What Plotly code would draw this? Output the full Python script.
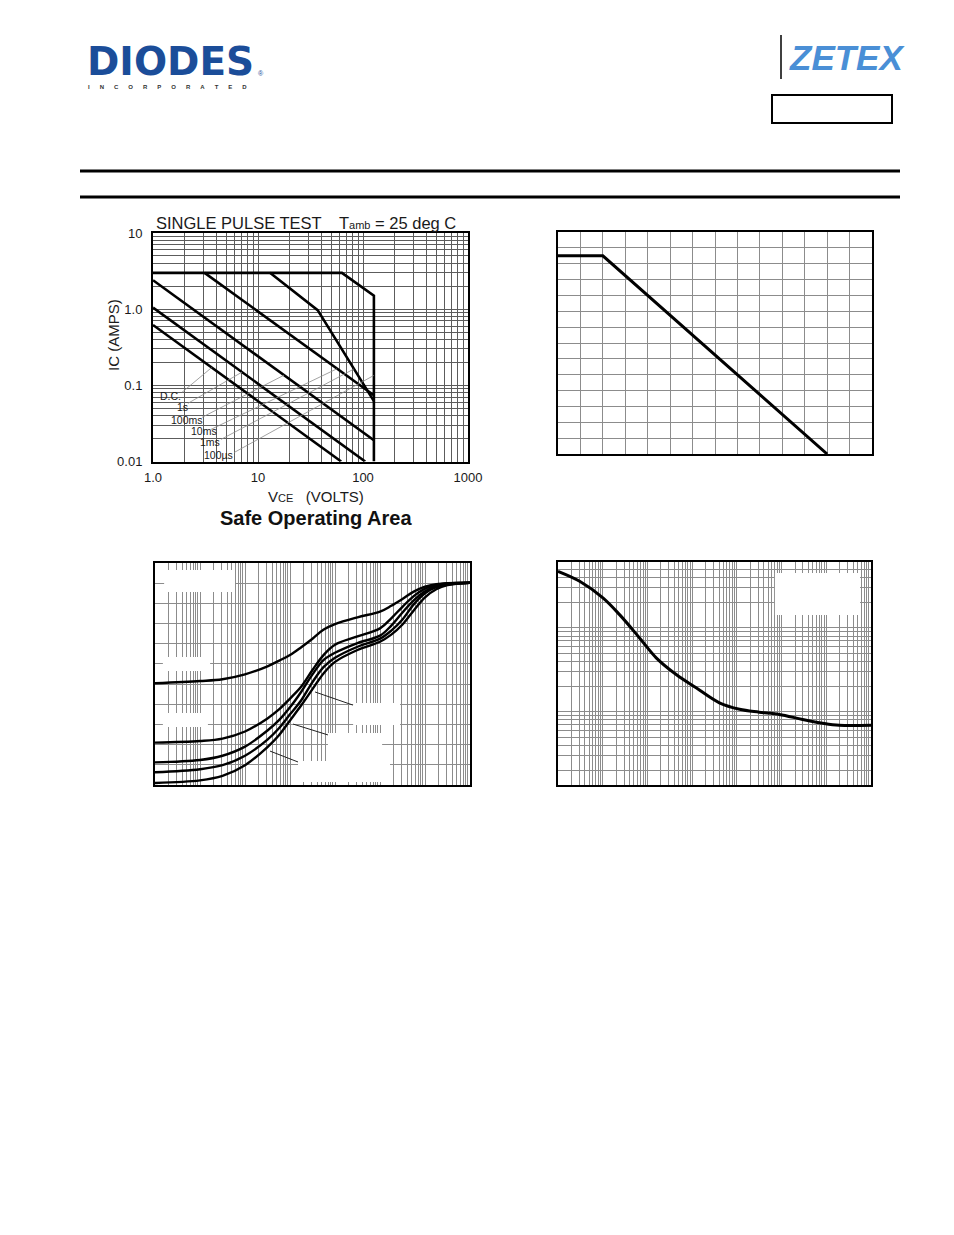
import numpy as np
import plotly.graph_objects as go

W, H = 954, 1235

# ---------------- data ----------------
# Safe Operating Area: VCE (V) vs IC (A)
soa_dc_v = [1.0, 62.0]
soa_dc_i = [0.62, 0.01]
soa_1s_v = [1.0, 105.0]
soa_1s_i = [1.05, 0.01]
soa_100ms_v = [1.0, 127.0]
soa_100ms_i = [2.4, 0.019]
soa_10ms_v = [3.1, 127.0]
soa_10ms_i = [3.0, 0.074]
soa_1ms_v = [13.0, 37.0, 127.0]
soa_1ms_i = [3.0, 0.97, 0.062]
soa_100us_v = [1.0, 63.0, 127.0, 127.0]
soa_100us_i = [3.0, 3.0, 1.5, 0.01]

soa_labels = ["D.C.", "1s", "100ms", "10ms", "1ms", "100µs"]
soa_label_v = [1.48, 1.93, 2.11, 3.05, 3.49, 4.16]
soa_label_i = [0.073, 0.052, 0.035, 0.025, 0.018, 0.012]
soa_leader_v0 = [1.89, 2.15, 2.93, 3.57, 4.44, 5.91]
soa_leader_i0 = [0.081, 0.058, 0.038, 0.0264, 0.0195, 0.0131]
soa_leader_v1 = [3.62, 7.04, 17.7, 56.5, 82.0, 127.0]
soa_leader_i1 = [0.171, 0.149, 0.136, 0.165, 0.164, 0.135]

soa_x_tickvals = [1, 10, 100, 1000]
soa_x_ticktext = ["1.0", "10", "100", "1000"]
soa_y_tickvals = [0.01, 0.1, 1, 10]
soa_y_ticktext = ["0.01", "0.1", "1.0", "10"]

# Derating curve (top right)
derate_t = [0, 20, 120]
derate_p = [1.25, 1.25, 0.0]

# Transient thermal curves (bottom left): pulse width (s) vs value
tt_t = [1e-4, 1e-3, 3.16e-3, 1e-2, 3.16e-2, 5.62e-2, 0.1, 0.178, 0.316, 0.562,
        1.0, 3.16, 10.0, 17.8, 31.6, 56.2, 100.0, 178.0, 316.0, 1000.0]
tt_c1 = [50.4, 51.5, 52.4, 54.8, 58.8, 61.5, 64.4, 68.3, 72.5, 77.0,
         79.7, 83.1, 85.9, 88.8, 92.2, 95.8, 98.3, 99.5, 100.0, 100.2]
tt_c2 = [21.0, 21.8, 23.0, 26.5, 33.0, 37.3, 42.8, 48.8, 57.0, 64.5,
         69.5, 73.6, 77.6, 82.6, 88.3, 93.6, 97.3, 99.2, 99.9, 100.2]
tt_c3 = [11.2, 12.4, 14.5, 19.0, 27.0, 32.0, 38.5, 46.2, 54.8, 62.0,
         65.5, 70.3, 74.0, 79.0, 85.5, 91.5, 96.0, 98.7, 99.7, 100.2]
tt_c4 = [6.3, 7.8, 9.8, 14.5, 22.5, 28.0, 35.0, 42.0, 51.0, 58.5,
         63.0, 68.5, 72.5, 76.5, 82.0, 89.5, 95.0, 98.0, 99.3, 100.2]
tt_c5 = [1.0, 2.3, 4.5, 9.8, 18.8, 24.5, 32.0, 39.5, 47.5, 55.4,
         61.0, 66.9, 71.0, 74.5, 79.5, 86.5, 93.0, 97.0, 99.0, 100.2]
tt_leader_t0 = [3.6e-1, 1.17e-1, 3.6e-2]
tt_leader_v0 = [46.1, 30.2, 16.8]
tt_leader_t1 = [2.5, 0.70, 0.151]
tt_leader_v1 = [39.6, 24.8, 11.4]

# Pulse power (bottom right): pulse width (s) vs power (W)
pp_t = [1e-4, 3.05e-4, 1.01e-3, 2.38e-3, 6.67e-3, 1.57e-2, 4.4e-2, 0.123,
        0.407, 1.15, 3.16, 8.9, 29.5, 83.0, 195.0, 1000.0]
pp_p = [47.3, 36.0, 22.8, 14.4, 7.6, 4.4, 2.78, 1.93,
        1.28, 1.07, 0.99, 0.93, 0.81, 0.73, 0.69, 0.69]

# ---------------- helpers ----------------
def px(x):
    return x / W


def py(y):
    return 1 - y / H


def log_minor(lo, hi):
    return [m * 10.0 ** k for k in range(lo, hi) for m in range(2, 10)]


fig = go.Figure()


def add_line(x, y, xa, ya, width=2.6, color="black", shape="linear"):
    fig.add_trace(go.Scatter(x=x, y=y, mode="lines", xaxis=xa, yaxis=ya,
                             line=dict(color=color, width=width, shape=shape),
                             hoverinfo="skip", showlegend=False))


# SOA curves
for v, i in [(soa_dc_v, soa_dc_i), (soa_1s_v, soa_1s_i), (soa_100ms_v, soa_100ms_i),
             (soa_10ms_v, soa_10ms_i), (soa_1ms_v, soa_1ms_i), (soa_100us_v, soa_100us_i)]:
    add_line(v, i, "x", "y", width=2.6)
for k in range(len(soa_labels)):
    add_line([soa_leader_v0[k], soa_leader_v1[k]], [soa_leader_i0[k], soa_leader_i1[k]],
             "x", "y", width=0.8, color="#8a8a8a")

# derating
add_line(derate_t, derate_p, "x2", "y2", width=3.0)

# transient thermal
for c in [tt_c1, tt_c2, tt_c3, tt_c4, tt_c5]:
    add_line(tt_t, c, "x3", "y3", width=2.4, shape="spline")
for k in range(len(tt_leader_t0)):
    add_line([tt_leader_t0[k], tt_leader_t1[k]], [tt_leader_v0[k], tt_leader_v1[k]],
             "x3", "y3", width=1.0, color="#222")

# pulse power
add_line(pp_t, pp_p, "x4", "y4", width=3.0, shape="spline")

grid_soa = "#5c5c5c"
grid_c = "#8c8c8c"
frame = dict(showline=True, linecolor="black", linewidth=2, mirror=True, zeroline=False,
             automargin=False)
tickfont = dict(family="Liberation Sans, Arial, sans-serif", size=13, color="#1a1a1a")

layout = dict(
    width=W, height=H, margin=dict(l=0, r=0, t=0, b=0, pad=0, autoexpand=False),
    autosize=False, paper_bgcolor="white", plot_bgcolor="white", showlegend=False,
    xaxis=dict(domain=[px(153), px(468)], anchor="y", type="log", range=[0, 3],
               tickvals=soa_x_tickvals, ticktext=soa_x_ticktext, ticks="",
               showgrid=True, gridcolor=grid_soa, gridwidth=1,
               minor=dict(tickvals=log_minor(0, 3), showgrid=True, gridcolor=grid_soa,
                          gridwidth=0.8, ticks=""),
               tickfont=tickfont, ticklabelstandoff=3, **frame),
    yaxis=dict(domain=[py(461.5), py(233)], anchor="x", type="log", range=[-2, 1],
               tickvals=soa_y_tickvals, ticktext=soa_y_ticktext, ticks="",
               showgrid=True, gridcolor=grid_soa, gridwidth=1,
               minor=dict(tickvals=log_minor(-2, 1), showgrid=True, gridcolor=grid_soa,
                          gridwidth=0.8, ticks=""),
               tickfont=tickfont, ticklabelstandoff=6, **frame),
    xaxis2=dict(domain=[px(558), px(872)], anchor="y2", range=[0, 140], dtick=10,
                showticklabels=False, ticks="", showgrid=True, gridcolor=grid_c,
                gridwidth=1, **frame),
    yaxis2=dict(domain=[py(454), py(232)], anchor="x2", range=[0, 1.4], dtick=0.1,
                showticklabels=False, ticks="", showgrid=True, gridcolor=grid_c,
                gridwidth=1, **frame),
    xaxis3=dict(domain=[px(155), px(470)], anchor="y3", type="log", range=[-4, 3],
                tickvals=[10.0 ** k for k in range(-4, 4)], showticklabels=False, ticks="",
                showgrid=True, gridcolor=grid_c, gridwidth=1,
                minor=dict(tickvals=log_minor(-4, 3), showgrid=True, gridcolor=grid_c,
                           gridwidth=1, ticks=""), **frame),
    yaxis3=dict(domain=[py(785), py(563)], anchor="x3", range=[0, 110], dtick=10,
                showticklabels=False, ticks="", showgrid=True, gridcolor=grid_c,
                gridwidth=1, **frame),
    xaxis4=dict(domain=[px(558), px(871)], anchor="y4", type="log", range=[-4, 3],
                tickvals=[10.0 ** k for k in range(-4, 4)], showticklabels=False, ticks="",
                showgrid=True, gridcolor=grid_c, gridwidth=1,
                minor=dict(tickvals=log_minor(-4, 3), showgrid=True, gridcolor=grid_c,
                           gridwidth=1, ticks=""), **frame),
    yaxis4=dict(domain=[py(785), py(562)], anchor="x4", type="log", range=[-0.873, 1.786],
                tickvals=[0.1, 1, 10, 100], showticklabels=False, ticks="",
                showgrid=True, gridcolor=grid_c, gridwidth=1,
                minor=dict(tickvals=log_minor(-1, 2), showgrid=True, gridcolor=grid_c,
                           gridwidth=1, ticks=""), **frame),
)
fig.update_layout(**layout)

shapes = []
# header rules and box
shapes.append(dict(type="line", xref="paper", yref="paper", x0=px(80), x1=px(900),
                   y0=py(171), y1=py(171), line=dict(color="black", width=3)))
shapes.append(dict(type="line", xref="paper", yref="paper", x0=px(80), x1=px(900),
                   y0=py(197), y1=py(197), line=dict(color="black", width=3)))
shapes.append(dict(type="rect", xref="paper", yref="paper", x0=px(772), x1=px(892),
                   y0=py(123), y1=py(95), line=dict(color="black", width=2)))
shapes.append(dict(type="line", xref="paper", yref="paper", x0=px(781), x1=px(781),
                   y0=py(79), y1=py(35), line=dict(color="black", width=1.5)))

# blank label patches (bottom-left)
for (x0, x1, y0, y1) in [(0.029, 0.254, 0.869, 0.968), (0.025, 0.175, 0.514, 0.577),
                         (0.025, 0.168, 0.261, 0.324), (0.629, 0.778, 0.270, 0.369),
                         (0.549, 0.721, 0.108, 0.234), (0.454, 0.746, 0.014, 0.108)]:
    shapes.append(dict(type="rect", xref="x3 domain", yref="y3 domain", x0=x0, x1=x1,
                       y0=y0, y1=y1, fillcolor="white", line=dict(width=0), layer="above"))
# bottom-right patch
shapes.append(dict(type="rect", xref="x4 domain", yref="y4 domain", x0=0.693, x1=0.965,
                   y0=0.762, y1=0.951, fillcolor="white", line=dict(width=0), layer="above"))
fig.update_layout(shapes=shapes)

ann = []
base = "Liberation Sans, Arial, sans-serif"
ann.append(dict(xref="paper", yref="paper", x=px(86), y=py(61), xanchor="left", yanchor="middle",
                text="<b>DIODES</b>", showarrow=False, height=34, borderpad=0,
                font=dict(family="DejaVu Sans, Liberation Sans", size=39, color="#1b4d99")))
ann.append(dict(xref="paper", yref="paper", x=px(257), y=py(73), xanchor="left", yanchor="middle",
                text="®", showarrow=False, borderpad=0,
                font=dict(family=base, size=7, color="#1b4d99")))
nb = "\u00a0" * 6
ann.append(dict(xref="paper", yref="paper", x=px(87), y=py(87), xanchor="left", yanchor="middle",
                text="<b>" + nb.join(list("INCORPORATED")) + "</b>", showarrow=False, borderpad=0,
                font=dict(family=base, size=6, color="#333333")))
ann.append(dict(xref="paper", yref="paper", x=px(787), y=py(57), xanchor="left", yanchor="middle",
                text="<b><i>ZETEX</i></b>", showarrow=False,
                font=dict(family="Liberation Sans, Arial, sans-serif",
                          size=35, color="#4a8fd6")))

# SOA texts
ann.append(dict(xref="paper", yref="paper", x=px(154), y=py(223), xanchor="left", yanchor="middle",
                text="SINGLE PULSE TEST", showarrow=False,
                font=dict(family=base, size=16.5, color="#1a1a1a")))
ann.append(dict(xref="paper", yref="paper", x=px(337), y=py(223), xanchor="left", yanchor="middle",
                text="T<span style='font-size:11px'>amb</span> = 25 deg C", showarrow=False,
                font=dict(family=base, size=16.5, color="#1a1a1a")))
ann.append(dict(xref="paper", yref="paper", x=px(113), y=py(335), xanchor="center", yanchor="middle",
                text="IC (AMPS)", textangle=-90, showarrow=False,
                font=dict(family=base, size=15, color="#1a1a1a")))
ann.append(dict(xref="paper", yref="paper", x=px(316), y=py(496), xanchor="center", yanchor="middle",
                text="V<span style='font-size:11px'>CE</span>   (VOLTS)", showarrow=False,
                font=dict(family=base, size=15, color="#1a1a1a")))
ann.append(dict(xref="paper", yref="paper", x=px(316), y=py(518), xanchor="center", yanchor="middle",
                text="<b>Safe Operating Area</b>", showarrow=False,
                font=dict(family=base, size=20, color="#111111")))
for k, lab in enumerate(soa_labels):
    ann.append(dict(xref="x", yref="y", x=float(np.log10(soa_label_v[k])),
                    y=float(np.log10(soa_label_i[k])), xanchor="center", yanchor="middle",
                    text=lab, showarrow=False,
                    font=dict(family=base, size=10.5, color="#1a1a1a")))
fig.update_layout(annotations=ann)

fig.write_html("out.html", config={"displayModeBar": False})
